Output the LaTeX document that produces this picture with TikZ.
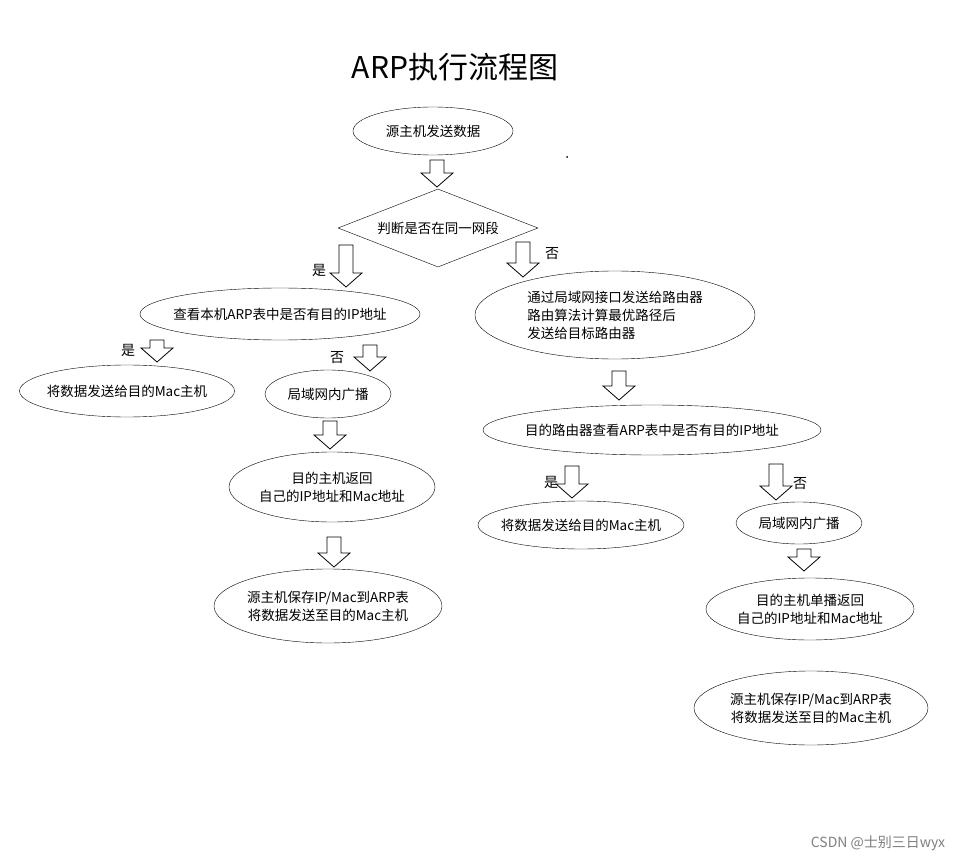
\documentclass[tikz,border=0pt]{standalone}
\usepackage{fontspec}
\setmainfont{Noto Sans CJK SC}
\usetikzlibrary{shapes.geometric}
\newcommand\barrow[3]{%
 \draw[blockarrow] (#1-7,#2) -- (#1+7,#2) -- (#1+7,#3-14) -- (#1+16,#3-14) -- (#1,#3) -- (#1-16,#3-14) -- (#1-7,#3-14) -- cycle;}
\begin{document}
\begin{tikzpicture}[x=1pt,y=-1pt,
 el/.style={draw,ellipse,inner xsep=-40pt,inner ysep=-15pt,font=\fontsize{13.5}{18}\selectfont,align=center},
 lbl/.style={font=\fontsize{14}{16}\selectfont,inner sep=0pt},
 blockarrow/.style={draw,fill=white,line width=0.8pt}]
\useasboundingbox[fill=white] (0,0) rectangle (970,864);
\node[font=\fontsize{30}{36}\selectfont] (title) at (455,67) {ARP执行流程图};
\node[el,minimum width=160,minimum height=48] (src) at (433,131) {源主机发送数据};
\fill (567,157) circle (1);
\barrow{437}{160}{187}
\node[draw,diamond,aspect=2.56,minimum width=200,minimum height=78,inner sep=-20pt,font=\fontsize{13.5}{18}\selectfont] (same) at (438,228) {判断是否在同一网段};
\barrow{346}{245}{287}
\node[lbl] (yes1) at (319,270) {是};
\barrow{523}{242}{277}
\node[lbl] (no1) at (552,254) {否};
\node[el,minimum width=280,minimum height=52] (arp) at (280,314) {查看本机ARP表中是否有目的IP地址};
\node[el,minimum width=280,minimum height=88,align=left,inner xsep=-60pt] (router) at (615,315) {通过局域网接口发送给路由器\\路由算法计算最优路径后\\发送给目标路由器};
\node[lbl] (yes2) at (128,350) {是};
\barrow{157}{340}{362}
\node[lbl] (no2) at (337,358) {否};
\barrow{370}{345}{371}
\node[el,minimum width=215,minimum height=52] (sendL) at (127,391) {将数据发送给目的Mac主机};
\node[el,minimum width=126,minimum height=48] (bcL) at (328,394) {局域网内广播};
\barrow{330}{421}{449}
\node[el,minimum width=206,minimum height=70] (retL) at (332,487) {目的主机返回\\自己的IP地址和Mac地址};
\barrow{334}{537}{567}
\node[el,minimum width=228,minimum height=74] (saveL) at (328,606) {源主机保存IP/Mac到ARP表\\将数据发送至目的Mac主机};
\barrow{619}{371}{400}
\node[el,minimum width=338,minimum height=50] (rarp) at (652,430) {目的路由器查看ARP表中是否有目的IP地址};
\node[lbl] (yes3) at (551,482) {是};
\barrow{572}{466}{498}
\node[lbl] (no3) at (800,484) {否};
\barrow{776}{464}{500}
\node[el,minimum width=206,minimum height=48] (sendR) at (581,525) {将数据发送给目的Mac主机};
\node[el,minimum width=126,minimum height=42] (bcR) at (799,523) {局域网内广播};
\barrow{804}{549}{571}
\node[el,minimum width=208,minimum height=62] (retR) at (810,609) {目的主机单播返回\\自己的IP地址和Mac地址};
\node[el,minimum width=234,minimum height=74] (saveR) at (811,708) {源主机保存IP/Mac到ARP表\\将数据发送至目的Mac主机};
\node[font=\fontsize{14}{16}\selectfont,text=gray] (wm) at (878,843) {CSDN @士别三日wyx};
\end{tikzpicture}
\end{document}
